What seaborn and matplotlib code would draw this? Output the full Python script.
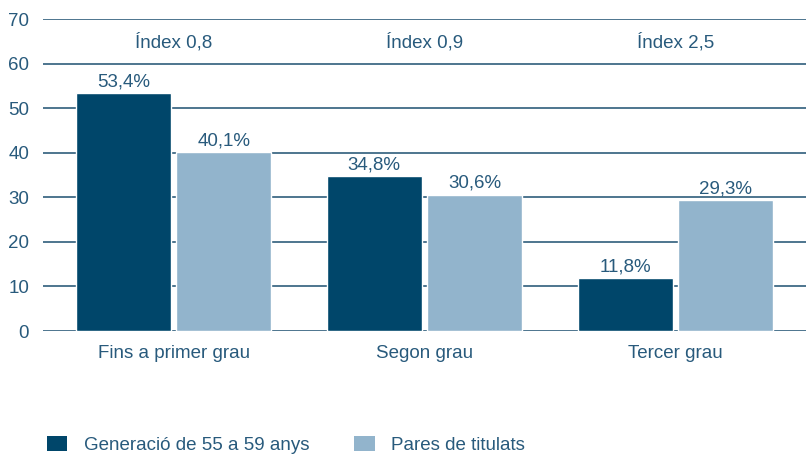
import matplotlib
matplotlib.use("Agg")
import matplotlib.pyplot as plt
import seaborn as sns
import pandas as pd
from matplotlib.patches import Patch

categories = ["Fins a primer grau", "Segon grau", "Tercer grau"]
series_names = ["Generació de 55 a 59 anys", "Pares de titulats"]
gen_55_59 = [53.4, 34.8, 11.8]
pares_titulats = [40.1, 30.6, 29.3]
index_labels = ["Índex 0,8", "Índex 0,9", "Índex 2,5"]
y_ticks = [0, 10, 20, 30, 40, 50, 60, 70]

dark = "#00466a"
light = "#92b4cc"
text_c = "#285a7c"
grid_c = "#2f5d7c"
fs = 13.5

sns.set_theme(style="white")
plt.rcParams['font.family'] = ['Liberation Sans', 'DejaVu Sans']

df = pd.DataFrame({
    "cat": categories * 2,
    "serie": [series_names[0]] * 3 + [series_names[1]] * 3,
    "val": gen_55_59 + pares_titulats,
})

fig = plt.figure(figsize=(8.06, 4.54), dpi=100)
ax = fig.add_axes([43 / 806, 1 - 331 / 454, 1 - 43 / 806, (331 - 19) / 454])

sns.barplot(data=df, x="cat", y="val", hue="serie", order=categories,
            hue_order=series_names, palette=[dark, light], width=0.8, gap=0.05,
            saturation=1, legend=False, ax=ax, zorder=2)

ax.set_ylim(0, 70)
ax.set_xlim(-0.52, 2.52)
ax.set_yticks(y_ticks)
ax.set_yticklabels([str(t) for t in y_ticks])
ax.yaxis.grid(True, color=grid_c, linewidth=1.2)
ax.set_axisbelow(True)
for s in ax.spines.values():
    s.set_visible(False)
ax.set_xlabel("")
ax.set_ylabel("")
ax.tick_params(axis="y", length=0, pad=10, labelsize=fs, labelcolor=text_c)
ax.tick_params(axis="x", length=0, pad=10, labelsize=fs, labelcolor=text_c)

for cont in ax.containers:
    for bar in cont:
        h = bar.get_height()
        ax.annotate(f"{h:.1f}%".replace(".", ","),
                    (bar.get_x() + bar.get_width() / 2, h),
                    xytext=(0, 2), textcoords="offset points",
                    ha="center", va="bottom", fontsize=fs, color=text_c)

for i, lab in enumerate(index_labels):
    ax.text(i, 64.8, lab, ha="center", va="center", fontsize=fs, color=text_c)

handles = [Patch(facecolor=dark, edgecolor="none"), Patch(facecolor=light, edgecolor="none")]
fig.legend(handles, series_names, loc="center left", bbox_to_anchor=(47 / 806, 1 - 445 / 454),
           ncol=2, frameon=False, fontsize=fs, labelcolor=text_c, borderpad=0, borderaxespad=0,
           handlelength=1.07, handleheight=0.85, handletextpad=0.9, columnspacing=2.4)

fig.savefig("out.png", dpi=100)
